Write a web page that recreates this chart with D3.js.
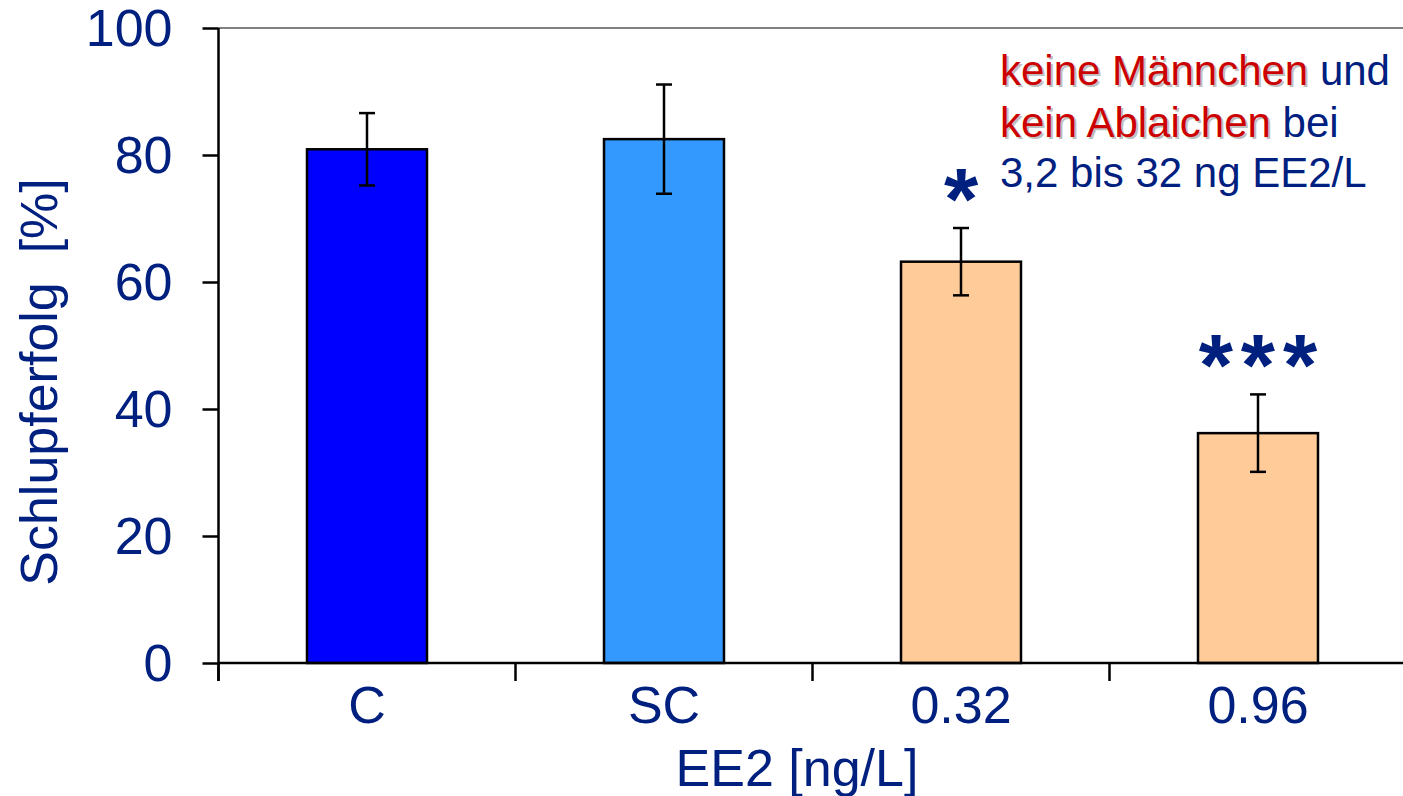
<!DOCTYPE html>
<html>
<head>
<meta charset="utf-8">
<script src="https://cdn.jsdelivr.net/npm/d3@7"></script>
<style>
  body { margin: 0; background: #fff; }
  text { font-family: Arial, "Liberation Sans", sans-serif; }
</style>
</head>
<body>
<svg id="chart" width="1403" height="796"></svg>
<script>
/* global d3 */

const categories = ['C', 'SC', '0.32', '0.96'];
const means = [80.9, 82.5, 63.2, 36.2];
const errors = [5.7, 8.6, 5.3, 6.1];
const colors = ['#0000ff', '#3399ff', '#ffcc99', '#ffcc99'];
const stars = ['', '', '*', '***'];
const yTicks = [0, 20, 40, 60, 80, 100];

const navy = '#002080';
const red = '#cc0000';

const svg = d3.select('#chart');
const plotLeft = 218.5;
const step = 297;
const plotTop = 28;
const plotBottom = 663;

const x = d3.scaleBand()
  .domain(categories)
  .range([plotLeft, plotLeft + step * categories.length])
  .padding(0);

const y = d3.scaleLinear()
  .domain([0, 100])
  .range([plotBottom, plotTop]);

const barWidth = x.bandwidth() * 0.404;

// top frame line
svg.append('line')
  .attr('x1', plotLeft).attr('x2', 1403)
  .attr('y1', y(100)).attr('y2', y(100))
  .attr('stroke', '#808080')
  .attr('stroke-width', 2);

// bars
svg.append('g')
  .selectAll('rect')
  .data(categories)
  .enter()
  .append('rect')
  .attr('x', d => x(d) + (x.bandwidth() - barWidth) / 2)
  .attr('y', (d, i) => y(means[i]))
  .attr('width', barWidth)
  .attr('height', (d, i) => y(0) - y(means[i]))
  .attr('fill', (d, i) => colors[i])
  .attr('stroke', '#000')
  .attr('stroke-width', 2.5);

// error bars
const err = svg.append('g')
  .attr('stroke', '#000')
  .attr('stroke-width', 2.5);
categories.forEach((c, i) => {
  const cx = x(c) + x.bandwidth() / 2;
  const hi = y(means[i] + errors[i]);
  const lo = y(means[i] - errors[i]);
  err.append('line').attr('x1', cx).attr('x2', cx).attr('y1', hi).attr('y2', lo);
  err.append('line').attr('x1', cx - 8).attr('x2', cx + 8).attr('y1', hi).attr('y2', hi);
  err.append('line').attr('x1', cx - 8).attr('x2', cx + 8).attr('y1', lo).attr('y2', lo);
});

// significance stars
svg.append('g')
  .selectAll('text')
  .data(categories)
  .enter()
  .append('text')
  .attr('x', d => x(d) + x.bandwidth() / 2 + 4)
  .attr('y', (d, i) => y(means[i] + errors[i]) + 1)
  .attr('text-anchor', 'middle')
  .attr('font-size', 88)
  .attr('font-weight', 'bold')
  .attr('letter-spacing', 8)
  .attr('fill', navy)
  .text((d, i) => stars[i]);

// y axis
const yAxis = svg.append('g')
  .attr('transform', `translate(${plotLeft},0)`)
  .call(d3.axisLeft(y).tickValues(yTicks).tickSize(16).tickPadding(30));
yAxis.select('.domain').attr('stroke', '#000').attr('stroke-width', 2.5)
  .attr('d', `M0,${plotTop}V${plotBottom + 18}`);
yAxis.selectAll('.tick line').attr('stroke', '#000').attr('stroke-width', 2.5);
yAxis.selectAll('.tick text')
  .attr('font-size', 52)
  .attr('fill', navy)
  .attr('dy', '0.33em');

// x axis
const xAxis = svg.append('g')
  .attr('transform', `translate(0,${plotBottom})`);
xAxis.append('line')
  .attr('x1', plotLeft).attr('x2', 1403)
  .attr('y1', 0).attr('y2', 0)
  .attr('stroke', '#000').attr('stroke-width', 2.5);
xAxis.selectAll('line.tick')
  .data(categories)
  .enter()
  .append('line')
  .attr('class', 'tick')
  .attr('x1', d => x(d)).attr('x2', d => x(d))
  .attr('y1', 0).attr('y2', 18)
  .attr('stroke', '#000').attr('stroke-width', 2.5);
xAxis.selectAll('text')
  .data(categories)
  .enter()
  .append('text')
  .attr('x', d => x(d) + x.bandwidth() / 2)
  .attr('y', 60)
  .attr('text-anchor', 'middle')
  .attr('font-size', 52)
  .attr('fill', navy)
  .text(d => d);

// axis titles
svg.append('text')
  .attr('x', 797)
  .attr('y', 786)
  .attr('text-anchor', 'middle')
  .attr('font-size', 52)
  .attr('fill', navy)
  .text('EE2 [ng/L]');

svg.append('text')
  .attr('transform', 'translate(57,382) rotate(-90)')
  .attr('text-anchor', 'middle')
  .attr('font-size', 52)
  .attr('fill', navy)
  .attr('xml:space', 'preserve')
  .text('Schlupferfolg  [%]');

// annotation
const noteLines = [
  [['keine Männchen', true], [' und', false]],
  [['kein Ablaichen', true], [' bei', false]],
  [['3,2 bis 32 ng EE2/L', false]],
];
const noteY = [85, 137, 187];

function drawNote(dx, dy, shadow) {
  noteLines.forEach((parts, i) => {
    const t = svg.append('text')
      .attr('x', 1000 + dx)
      .attr('y', noteY[i] + dy)
      .attr('font-size', 42)
      .attr('xml:space', 'preserve');
    parts.forEach(([s, isRed]) => {
      let fill = isRed ? red : navy;
      if (shadow) fill = isRed ? '#c0c0c0' : 'none';
      t.append('tspan').attr('fill', fill).text(s);
    });
  });
}
drawNote(2, 2, true);
drawNote(0, 0, false);
</script>
</body>
</html>
